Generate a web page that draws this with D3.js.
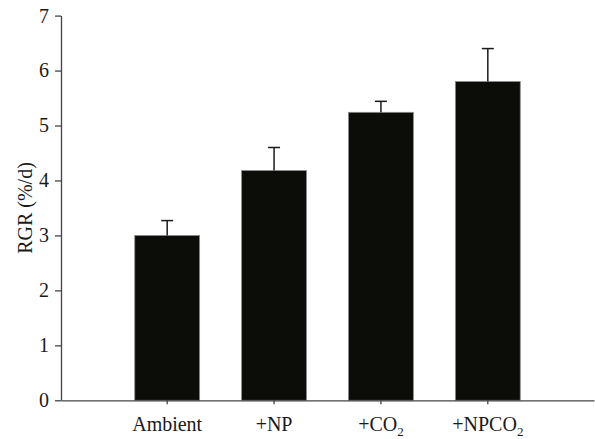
<!DOCTYPE html>
<html>
<head>
<meta charset="utf-8">
<script src="https://cdn.jsdelivr.net/npm/d3@7"></script>
<style>
    body { margin: 0; background: #fff; }
    svg { display: block; font-family: "Liberation Serif", "Times New Roman", serif; }
    .axis path, .axis line { stroke: #444; stroke-width: 1.3; }
    .axis text { fill: #1a1a1a; font-size: 20px; font-family: "Liberation Serif", serif; }
</style>
</head>
<body>
<svg id="rgr-chart" width="595" height="439"></svg>
<script>
// chart data
const categories = ["Ambient", "+NP", "+CO2", "+NPCO2"];
const rgrMeans = [3.00, 4.18, 5.24, 5.80];
const rgrErrors = [0.27, 0.42, 0.20, 0.60];
const yTicks = [0, 1, 2, 3, 4, 5, 6, 7];

// labels with subscripts: [main text, subscript]
const tickLabels = [["Ambient", ""], ["+NP", ""], ["+CO", "2"], ["+NPCO", "2"]];

const data = categories.map((c, i) => ({ name: c, mean: rgrMeans[i], err: rgrErrors[i] }));

const svg = d3.select("#rgr-chart");

// scales
const xScale = d3.scaleBand()
    .domain(categories)
    .range([61, 594])
    .paddingInner(0.393)
    .paddingOuter(0.69);

const yScale = d3.scaleLinear()
    .domain([0, 7])
    .range([400.3, 15.6]);

// bars
svg.selectAll(".bar")
    .data(data)
    .join("rect")
    .attr("class", "bar")
    .attr("x", d => xScale(d.name))
    .attr("y", d => yScale(d.mean))
    .attr("width", xScale.bandwidth())
    .attr("height", d => yScale(0) - yScale(d.mean))
    .attr("fill", "#0c0d08")
    .attr("stroke", "#8a8a8a")
    .attr("stroke-width", 0.8);

// error bars (upper only)
const capHalf = 6;
const errs = svg.selectAll(".err")
    .data(data)
    .join("g")
    .attr("class", "err")
    .attr("stroke", "#1a1a1a")
    .attr("stroke-width", 1.5);

errs.append("line")
    .attr("x1", d => xScale(d.name) + xScale.bandwidth() / 2)
    .attr("x2", d => xScale(d.name) + xScale.bandwidth() / 2)
    .attr("y1", d => yScale(d.mean))
    .attr("y2", d => yScale(d.mean + d.err));

errs.append("line")
    .attr("x1", d => xScale(d.name) + xScale.bandwidth() / 2 - capHalf)
    .attr("x2", d => xScale(d.name) + xScale.bandwidth() / 2 + capHalf)
    .attr("y1", d => yScale(d.mean + d.err))
    .attr("y2", d => yScale(d.mean + d.err));

// y axis
svg.append("g")
    .attr("class", "axis")
    .attr("transform", "translate(61,0)")
    .call(d3.axisLeft(yScale).tickValues(yTicks).tickSize(6).tickSizeOuter(0).tickPadding(6).tickFormat(d3.format("d")));

// x axis
const xAxis = svg.append("g")
    .attr("class", "axis")
    .attr("transform", `translate(0,${yScale(0)})`)
    .call(d3.axisBottom(xScale).tickSize(4).tickSizeOuter(0).tickPadding(13));

// replace tick text with subscript-aware labels
xAxis.selectAll(".tick text")
    .text(null)
    .each(function (d) {
        const t = d3.select(this);
        const lab = tickLabels[categories.indexOf(d)];
        t.append("tspan").text(lab[0]);
        if (lab[1]) {
            t.append("tspan")
                .attr("font-size", "13px")
                .attr("dy", "5")
                .text(lab[1]);
        }
    });

// y axis title
svg.append("text")
    .attr("transform", "translate(32,208) rotate(-90)")
    .attr("text-anchor", "middle")
    .attr("font-size", "20px")
    .attr("fill", "#1a1a1a")
    .text("RGR (%/d)");
</script>
</body>
</html>
